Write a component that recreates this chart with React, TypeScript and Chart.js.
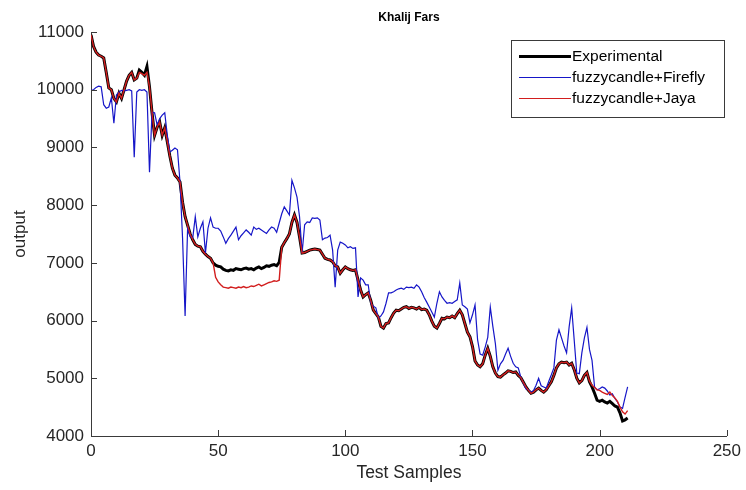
import React, { useEffect, useRef } from "react";
import { Chart, registerables } from "chart.js";

Chart.register(...registerables);

const chartTitle = "Khalij Fars";
const xAxisTitle = "Test Samples";
const yAxisTitle = "output";
const seriesNames = ["Experimental", "fuzzycandle+Firefly", "fuzzycandle+Jaya"];
const xTickValues = [0, 50, 100, 150, 200, 250];
const yTickValues = [4000, 5000, 6000, 7000, 8000, 9000, 10000, 11000];

const experimental = [
  10950, 10750, 10650, 10600, 10580, 10550, 10300, 10030, 10000, 9850,
  9790, 9940, 9850, 10000, 10150, 10250, 10300, 10170, 10200, 10340,
  10300, 10250, 10400, 10050, 9600, 9210, 9350, 9440, 9210, 9340,
  9100, 8850, 8640, 8520, 8470, 8400, 8050, 7800, 7650, 7500,
  7400, 7320, 7290, 7280, 7200, 7150, 7110, 7080, 7000, 6960,
  6940, 6930, 6890, 6870, 6860, 6880, 6870, 6900, 6890, 6880,
  6900, 6910, 6890, 6900, 6880, 6910, 6930, 6900, 6920, 6950,
  6940, 6960, 6970, 6950, 7010, 7270, 7350, 7420, 7500, 7700,
  7830, 7700, 7450, 7170, 7180, 7200, 7220, 7230, 7240, 7230,
  7220, 7150, 7080, 7060, 7050, 7020, 6950, 6930, 6820, 6880,
  6930, 6900, 6880, 6870, 6880, 6700, 6530, 6410, 6450, 6480,
  6350, 6180, 6120, 6060, 5900, 5870, 5950, 5960, 6050, 6130,
  6180, 6170, 6200, 6230, 6240, 6210, 6230, 6220, 6200, 6230,
  6190, 6200, 6180, 6100, 5990, 5900, 5870, 5950, 6040, 6030,
  6060, 6050, 6080, 6050, 6120, 6180, 6100, 5950, 5800, 5720,
  5550, 5300, 5230, 5200, 5250, 5400, 5520, 5380, 5200, 5090,
  5030, 5020, 5060, 5090, 5130, 5120, 5100, 5110, 5050, 5010,
  4930, 4850, 4790, 4740, 4760, 4800, 4830, 4790, 4760, 4800,
  4870, 4940, 5050, 5180, 5250, 5280, 5270, 5280, 5230, 5260,
  5150, 5000, 4920, 4960, 5050, 5100, 4940, 4850, 4740, 4620,
  4600, 4620, 4590, 4570, 4600, 4560, 4520, 4500, 4400, 4260,
  4280, 4310,
];

const firefly = [
  9990, 10000, 10040, 10060, 10050, 9740, 9680, 9700, 9860, 9420,
  9910, 9960, 9990, 9980, 9990, 10000, 9980, 8830, 9960, 10000,
  9990, 10000, 9960, 8570, 9610, 9600, 9390, 9500, 9560, 9600,
  9210, 8920, 8950, 8990, 8960, 8400, 7430, 6080, 7620, 7450,
  7430, 7800, 7450, 7600, 7710, 7170, 7600, 7780, 7620, 7600,
  7600, 7550, 7450, 7340, 7420, 7480, 7550, 7620, 7400, 7470,
  7520, 7570, 7530, 7480, 7620, 7580, 7600, 7570, 7540, 7510,
  7570, 7620, 7600, 7530, 7690, 7850, 7970, 7900, 7830, 8430,
  8300, 8140, 7800, 7170, 7660, 7710, 7700, 7780, 7770, 7780,
  7740, 7400, 7430, 7440, 7480, 7220, 6580, 7220, 7360, 7340,
  7310, 7260, 7280, 7250, 7260, 6410, 6740, 6700, 6620, 6620,
  6300, 6250, 6220, 6040, 6080, 6150, 6300, 6480, 6480, 6500,
  6530, 6550, 6560, 6540, 6580, 6570, 6580, 6560, 6620, 6580,
  6500, 6400, 6320, 6235, 6150, 6060, 6300, 6500, 6410, 6350,
  6300, 6310, 6300, 6330, 6360, 6650, 6270, 6240, 6200, 5960,
  6100, 6270, 5670, 5420, 5400, 5540, 5710, 6235, 5900, 5600,
  5140, 5250, 5310, 5420, 5520, 5380, 5260, 5200, 5180, 5020,
  4920, 4820, 4800, 4760, 4790, 4880, 5000, 4870, 4850, 4830,
  4950, 5060, 5180, 5660, 5840, 5700, 5560, 5440, 5890, 6220,
  5660, 5090, 5080, 5440, 5700, 5880, 5500, 5310, 4850, 4800,
  4820, 4850, 4830, 4780, 4710, 4730, 4650, 4590, 4500, 4480,
  4670, 4850,
];

const jaya = [
  10950, 10750, 10650, 10600, 10580, 10550, 10300, 10030, 10000, 9850,
  9790, 9940, 9850, 10000, 10150, 10250, 10300, 10170, 10200, 10300,
  10280, 10250, 10300, 10050, 9600, 9210, 9350, 9440, 9210, 9340,
  9100, 8850, 8640, 8520, 8470, 8400, 8050, 7800, 7650, 7500,
  7400, 7320, 7290, 7280, 7200, 7150, 7110, 7080, 7000, 6750,
  6670, 6620, 6580, 6570, 6560, 6580, 6570, 6560, 6580, 6570,
  6590, 6570, 6580, 6600, 6590, 6610, 6630, 6600, 6620, 6640,
  6660, 6670, 6690, 6680, 6700, 7270, 7350, 7420, 7500, 7700,
  7830, 7700, 7450, 7170, 7180, 7200, 7220, 7230, 7240, 7230,
  7220, 7150, 7080, 7060, 7050, 7020, 6950, 6930, 6820, 6880,
  6930, 6900, 6880, 6870, 6880, 6700, 6530, 6410, 6450, 6480,
  6350, 6180, 6120, 6060, 5900, 5870, 5950, 5960, 6050, 6130,
  6180, 6170, 6200, 6230, 6240, 6210, 6230, 6220, 6200, 6230,
  6190, 6200, 6180, 6100, 5990, 5900, 5870, 5950, 6040, 6030,
  6060, 6050, 6080, 6050, 6120, 6180, 6100, 5950, 5800, 5720,
  5550, 5300, 5230, 5200, 5250, 5400, 5520, 5380, 5200, 5090,
  5030, 5020, 5060, 5090, 5130, 5120, 5100, 5110, 5050, 5010,
  4930, 4850, 4790, 4740, 4760, 4800, 4830, 4790, 4760, 4800,
  4870, 4940, 5050, 5180, 5250, 5280, 5270, 5280, 5230, 5260,
  5150, 5000, 4920, 4960, 5050, 5100, 4950, 4880, 4840, 4800,
  4790, 4760, 4740, 4720, 4760, 4700, 4660, 4600, 4500, 4420,
  4380, 4440,
];

const FONT = "'Liberation Sans', Arial, Helvetica, sans-serif";
const AXIS_COLOR = "#3a3a3a";
const TEXT_COLOR = "#262626";
const BLACK = "#000000";
const BLUE = "#1616c8";
const RED = "#d21e1e";

const toPoints = (vals: number[]) => vals.map((v, i) => ({ x: i, y: v }));

const innerTicks = {
  id: "innerTicks",
  afterDatasetsDraw(chart: any) {
    const { ctx, chartArea, scales } = chart;
    ctx.save();
    ctx.strokeStyle = AXIS_COLOR;
    ctx.lineWidth = 1;
    ctx.beginPath();
    scales.x.ticks.forEach((t: any) => {
      const px = Math.round(scales.x.getPixelForValue(t.value)) + 0.5;
      ctx.moveTo(px, chartArea.bottom);
      ctx.lineTo(px, chartArea.bottom - 6);
    });
    scales.y.ticks.forEach((t: any) => {
      const py = Math.round(scales.y.getPixelForValue(t.value)) + 0.5;
      ctx.moveTo(chartArea.left, py);
      ctx.lineTo(chartArea.left + 6, py);
    });
    ctx.stroke();
    ctx.restore();
  },
};

const plotTitle = {
  id: "plotTitle",
  afterDraw(chart: any) {
    const { ctx, chartArea } = chart;
    ctx.save();
    ctx.font = `bold 12px ${FONT}`;
    ctx.fillStyle = "#000000";
    ctx.textAlign = "center";
    ctx.textBaseline = "middle";
    ctx.fillText(chartTitle, (chartArea.left + chartArea.right) / 2, chartArea.top - 14);
    ctx.restore();
  },
};

const boxLegend = {
  id: "boxLegend",
  afterDraw(chart: any) {
    const { ctx, chartArea } = chart;
    const w = 213;
    const h = 77;
    const x0 = Math.round(chartArea.right - 3 - w);
    const y0 = Math.round(chartArea.top + 8);
    ctx.save();
    ctx.fillStyle = "#ffffff";
    ctx.fillRect(x0, y0, w, h);
    ctx.strokeStyle = AXIS_COLOR;
    ctx.lineWidth = 1;
    ctx.strokeRect(x0 + 0.5, y0 + 0.5, w, h);
    const colors = [BLACK, BLUE, RED];
    const widths = [3, 1, 1];
    ctx.font = `15.5px ${FONT}`;
    ctx.textBaseline = "middle";
    ctx.textAlign = "left";
    seriesNames.forEach((name, k) => {
      const cy = y0 + 16 + k * 21;
      ctx.beginPath();
      ctx.strokeStyle = colors[k];
      ctx.lineWidth = widths[k];
      ctx.moveTo(x0 + 8, cy + 0.5);
      ctx.lineTo(x0 + 60, cy + 0.5);
      ctx.stroke();
      ctx.fillStyle = "#000000";
      ctx.fillText(name, x0 + 61, cy + 1);
    });
    ctx.restore();
  },
};

export default function App() {
  const canvasRef = useRef<HTMLCanvasElement | null>(null);

  useEffect(() => {
    if (!canvasRef.current) return;
    const chart = new Chart(canvasRef.current, {
      type: "line",
      data: {
        datasets: [
          {
            label: seriesNames[0],
            data: toPoints(experimental),
            borderColor: BLACK,
            borderWidth: 3,
            pointRadius: 0,
            tension: 0,
            order: 3,
          },
          {
            label: seriesNames[1],
            data: toPoints(firefly),
            borderColor: BLUE,
            borderWidth: 1.2,
            pointRadius: 0,
            tension: 0,
            order: 2,
          },
          {
            label: seriesNames[2],
            data: toPoints(jaya),
            borderColor: RED,
            borderWidth: 1.4,
            pointRadius: 0,
            tension: 0,
            order: 1,
          },
        ],
      },
      options: {
        animation: false,
        responsive: true,
        maintainAspectRatio: false,
        layout: { padding: { left: 0, right: 19, top: 32, bottom: 0 } },
        plugins: {
          legend: { display: false },
          tooltip: { enabled: false },
          title: { display: false },
        },
        scales: {
          x: {
            type: "linear",
            min: 0,
            max: 250,
            afterBuildTicks: (scale: any) => {
              scale.ticks = xTickValues.map((v) => ({ value: v }));
            },
            ticks: {
              color: TEXT_COLOR,
              font: { family: FONT, size: 17 },
              padding: 5,
              maxRotation: 0,
              callback: (v: any) => String(v),
            },
            grid: { display: false, drawTicks: false },
            border: { display: true, color: AXIS_COLOR, width: 1 },
            title: {
              display: true,
              text: xAxisTitle,
              color: TEXT_COLOR,
              font: { family: FONT, size: 17.5 },
              padding: { top: 0, bottom: 6 },
            },
            afterFit: (scale: any) => {
              scale.height = 54;
            },
          },
          y: {
            type: "linear",
            min: 4000,
            max: 11000,
            afterBuildTicks: (scale: any) => {
              scale.ticks = yTickValues.map((v) => ({ value: v }));
            },
            ticks: {
              color: TEXT_COLOR,
              font: { family: FONT, size: 17 },
              padding: 7,
              callback: (v: any) => String(v),
            },
            grid: { display: false, drawTicks: false },
            border: { display: true, color: AXIS_COLOR, width: 1 },
            title: {
              display: true,
              text: yAxisTitle,
              color: TEXT_COLOR,
              font: { family: FONT, size: 17 },
              padding: { top: 10, bottom: 0 },
            },
            afterFit: (scale: any) => {
              scale.width = 91;
            },
          },
        },
      },
      plugins: [innerTicks, plotTitle, boxLegend],
    });
    return () => chart.destroy();
  }, []);

  return (
    <div
      style={{
        position: "fixed",
        left: 0,
        top: 0,
        width: 746,
        height: 490,
        background: "#ffffff",
      }}
    >
      <canvas ref={canvasRef} />
    </div>
  );
}
